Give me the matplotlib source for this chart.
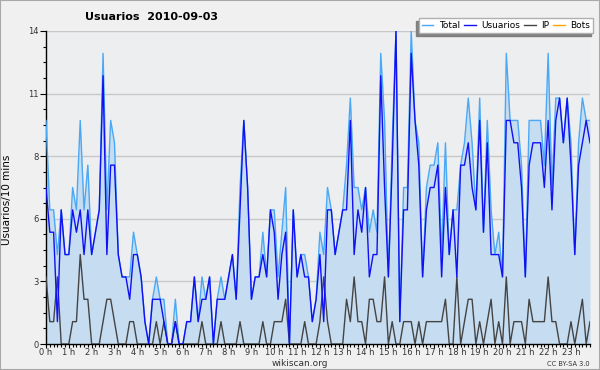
import numpy as np
import matplotlib.pyplot as plt
from matplotlib.ticker import FixedLocator, MultipleLocator

# datos por intervalos de 10 minutos (144 puntos)
horas = [f"{h} h" for h in range(24)]
y_ticks_labels = ["0", "3", "6", "8", "11", "14"]

usuarios = [7, 5, 5, 1, 6, 4, 4, 6, 5, 6, 4, 6, 4, 5, 6, 12, 4, 8, 8, 4, 3, 3, 2, 4,
            4, 3, 1, 0, 2, 2, 2, 1, 0, 0, 1, 0, 0, 1, 1, 3, 1, 2, 2, 3, 0, 2, 2, 2,
            3, 4, 2, 6, 10, 7, 2, 3, 3, 4, 3, 6, 5, 2, 4, 5, 0, 6, 3, 4, 3, 3, 1, 2,
            4, 1, 6, 6, 4, 5, 6, 6, 10, 4, 6, 5, 7, 3, 4, 4, 12, 7, 3, 8, 14, 1, 6, 6,
            13, 10, 8, 3, 6, 7, 7, 8, 3, 7, 4, 6, 3, 8, 8, 9, 7, 6, 10, 5, 9, 4, 4, 4,
            3, 10, 10, 9, 9, 7, 3, 8, 9, 9, 9, 7, 10, 6, 10, 11, 9, 11, 8, 4, 8, 9, 10, 9]
ip = [3, 1, 1, 3, 0, 0, 0, 1, 1, 4, 2, 2, 0, 0, 0, 1, 2, 2, 1, 0, 0, 0, 1, 1,
      0, 0, 0, 0, 0, 1, 0, 1, 0, 0, 1, 0, 0, 0, 0, 0, 0, 1, 0, 0, 0, 0, 1, 0,
      0, 0, 0, 1, 0, 0, 0, 0, 0, 1, 0, 0, 1, 1, 1, 2, 0, 0, 0, 0, 1, 0, 0, 0,
      1, 3, 1, 0, 0, 0, 0, 2, 1, 3, 1, 1, 0, 2, 2, 1, 1, 3, 0, 1, 0, 0, 1, 1,
      1, 0, 1, 0, 1, 1, 1, 1, 1, 2, 0, 0, 3, 0, 1, 2, 2, 0, 1, 0, 1, 2, 0, 1,
      0, 3, 0, 1, 1, 1, 0, 2, 1, 1, 1, 1, 3, 1, 1, 0, 0, 0, 1, 0, 1, 2, 0, 1]
total = [10, 6, 6, 4, 6, 4, 4, 7, 6, 10, 6, 8, 4, 5, 6, 13, 6, 10, 9, 4, 3, 3, 3, 5,
         4, 3, 1, 0, 2, 3, 2, 2, 0, 0, 2, 0, 0, 1, 1, 3, 1, 3, 2, 3, 0, 2, 3, 2,
         3, 4, 2, 7, 10, 7, 2, 3, 3, 5, 3, 6, 6, 3, 5, 7, 0, 6, 3, 4, 4, 3, 1, 2,
         5, 4, 7, 6, 4, 5, 6, 8, 11, 7, 7, 6, 7, 5, 6, 5, 13, 10, 3, 9, 14, 1, 7, 7,
         14, 10, 9, 3, 7, 8, 8, 9, 4, 9, 4, 6, 6, 8, 9, 11, 9, 6, 11, 5, 10, 6, 4, 5,
         3, 13, 10, 10, 10, 8, 3, 10, 10, 10, 10, 8, 13, 7, 11, 11, 9, 11, 9, 4, 9, 11, 10, 10]
bots = [0, 0, 0, 0, 0, 0, 0, 0, 0, 0, 0, 0, 0, 0, 0, 0, 0, 0, 0, 0, 0, 0, 0, 0,
        0, 0, 0, 0, 0, 0, 0, 0, 0, 0, 0, 0, 0, 0, 0, 0, 0, 0, 0, 0, 0, 0, 0, 0,
        0, 0, 0, 0, 0, 0, 0, 0, 0, 0, 0, 0, 0, 0, 0, 0, 0, 0, 0, 0, 0, 0, 0, 0,
        0, 0, 0, 0, 0, 0, 0, 0, 0, 0, 0, 0, 0, 0, 0, 0, 0, 0, 0, 0, 0, 0, 0, 0,
        0, 0, 0, 0, 0, 0, 0, 0, 0, 0, 0, 0, 0, 0, 0, 0, 0, 0, 0, 0, 0, 0, 0, 0,
        0, 0, 0, 0, 0, 0, 0, 0, 0, 0, 0, 0, 0, 0, 0, 0, 0, 0, 0, 0, 0, 0, 0, 0]

x = np.arange(len(total))

fig = plt.figure(figsize=(6, 3.7), dpi=100, facecolor="#f0f0f0")
fig.patches.append(plt.Rectangle((0, 0), 1, 1, transform=fig.transFigure,
                                 fill=False, edgecolor="#a8a8a8", linewidth=1.5))
ax = fig.add_axes([46/600, 1 - 344/370, 544/600, 313/370])
ax.set_facecolor("#edeef0")

ax.fill_between(x, 0, total, color="#c6dcf0", zorder=1.5, linewidth=0)
ax.plot(x, bots, color="#ffa500", linewidth=1, zorder=1)
ax.plot(x, total, color="#4aa8f5", linewidth=1, zorder=3, label="Total")
ax.plot(x, usuarios, color="#1010f5", linewidth=1, zorder=4, label="Usuarios")
ax.plot(x, ip, color="#444444", linewidth=1, zorder=3.5, label="IP")
ax.plot([], [], color="#ffa500", linewidth=1, label="Bots")

ax.set_xlim(0, 143)
ax.set_ylim(0, 14)

yt = np.arange(6) * 2.8
ax.yaxis.set_major_locator(FixedLocator(yt))
ax.set_yticklabels(y_ticks_labels)
ax.yaxis.set_minor_locator(MultipleLocator(0.7))
ax.xaxis.set_major_locator(FixedLocator(np.arange(24) * 6))
ax.set_xticklabels(horas)
ax.xaxis.set_minor_locator(MultipleLocator(1))

ax.tick_params(axis="both", which="major", labelsize=6, length=4, width=0.8,
               color="black", labelcolor="#333333", pad=1)
ax.tick_params(axis="x", which="major", length=3, pad=0)
ax.tick_params(axis="both", which="minor", length=2, width=0.8, color="black")
ax.grid(axis="y", color="#c8c8c8", linewidth=1)
ax.set_axisbelow(True)
for s in ["top", "right"]:
    ax.spines[s].set_visible(False)
ax.spines["left"].set_linewidth(1)
ax.spines["bottom"].set_linewidth(1)

ax.set_ylabel("Usuarios/10 mins", fontsize=7.5)
ax.yaxis.set_label_coords(-0.063, 0.46)

fig.text(0.252, 0.954, "Usuarios  2010-09-03", fontsize=8, fontweight="bold",
         ha="center", va="center")
fig.text(0.5, 0.017, "wikiscan.org", fontsize=6.5, ha="center", va="center",
         color="#333333")
fig.text(0.982, 0.017, "CC BY-SA 3.0", fontsize=4.8, ha="right", va="center",
         color="#333333")

leg = fig.legend(loc="upper right", bbox_to_anchor=(0.989, 0.951), ncol=4,
                 fontsize=6.5, frameon=True, fancybox=False, handlelength=1.3,
                 handletextpad=0.6, columnspacing=0.45, borderpad=0.33,
                 borderaxespad=0,
                 shadow={"ox": -2.0, "oy": -2.4, "color": "#808080", "alpha": 1})
leg.get_frame().set_edgecolor("#b0b0b0")
leg.get_frame().set_linewidth(1)

fig.savefig("out.png", dpi=100, facecolor=fig.get_facecolor())
